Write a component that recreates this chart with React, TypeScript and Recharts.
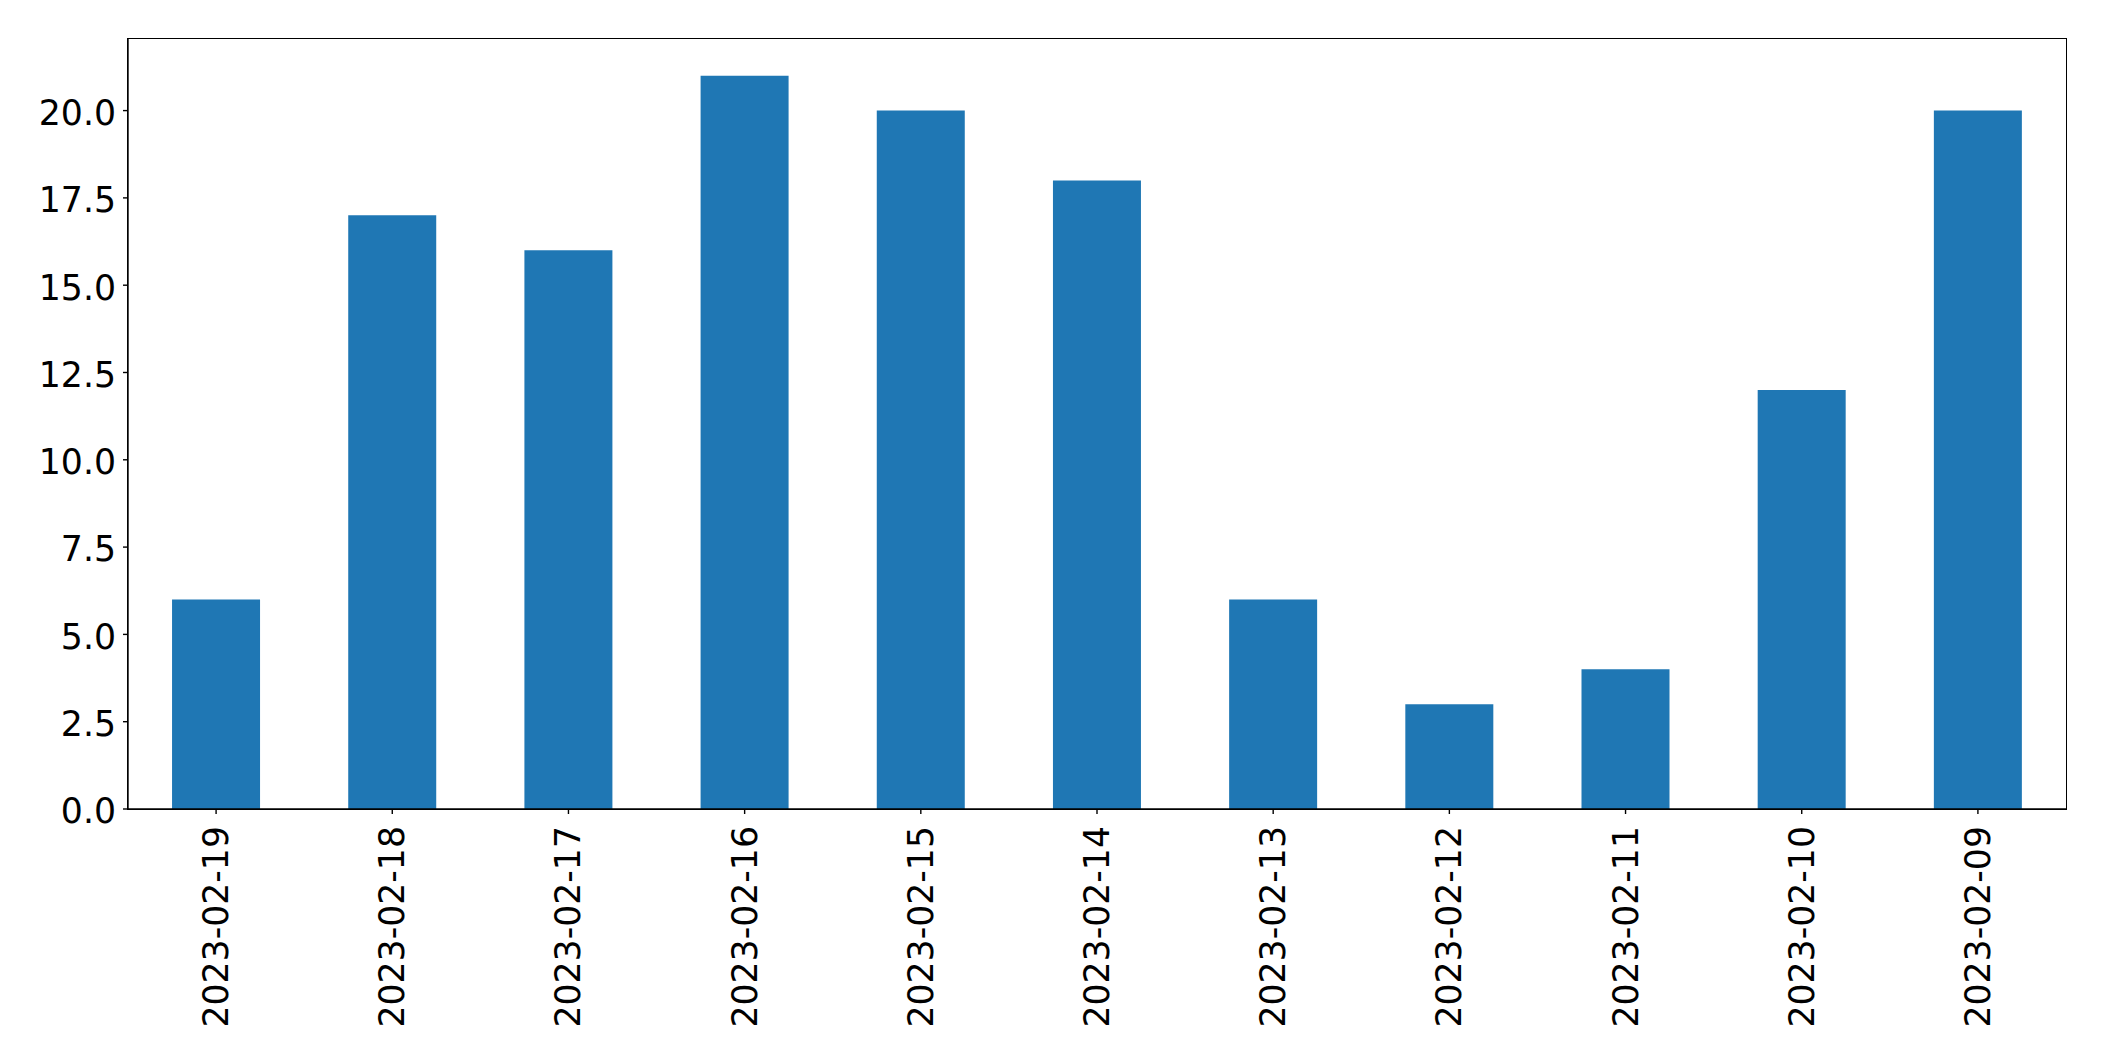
import React from "react";
import {
  BarChart,
  Bar,
  XAxis,
  YAxis,
} from "recharts";

const dates = [
  "2023-02-19",
  "2023-02-18",
  "2023-02-17",
  "2023-02-16",
  "2023-02-15",
  "2023-02-14",
  "2023-02-13",
  "2023-02-12",
  "2023-02-11",
  "2023-02-10",
  "2023-02-09",
];
const counts = [6, 17, 16, 21, 20, 18, 6, 3, 4, 12, 20];
const yTicks = [0, 2.5, 5, 7.5, 10, 12.5, 15, 17.5, 20];

const data = dates.map((d, i) => ({ date: d, count: counts[i] }));

const FONT = "'DejaVu Sans', sans-serif";
const FONT_SIZE = 34.7;

// plot area box (matches margins below)
const PLOT = { left: 128, top: 39, right: 38, bottom: 252 };

function DateTick(props: any) {
  const { x, y, payload } = props;
  return (
    <text
      transform={`translate(${x},${y + 10}) rotate(-90)`}
      textAnchor="end"
      dominantBaseline="central"
      fontFamily={FONT}
      fontSize={FONT_SIZE}
      fill="#000"
    >
      {payload.value}
    </text>
  );
}

export default function App() {
  return (
    <div
      style={{
        position: "absolute",
        left: 0,
        top: 0,
        width: 2104,
        height: 1061,
        background: "#fff",
      }}
    >
      <BarChart
        width={2104}
        height={1061}
        data={data}
        margin={{ top: PLOT.top, right: PLOT.right, left: 0, bottom: 12 }}
        barCategoryGap="25%"
      >
        <XAxis
          dataKey="date"
          height={240}
          interval={0}
          tick={<DateTick />}
          tickSize={5}
          axisLine={{ stroke: "#000", strokeWidth: 1.4 }}
          tickLine={{ stroke: "#000", strokeWidth: 1.4 }}
        />
        <YAxis
          width={PLOT.left}
          domain={[0, 22.05]}
          ticks={yTicks}
          interval={0}
          tickFormatter={(v: number) => v.toFixed(1)}
          tickSize={5}
          tickMargin={7}
          tick={{ fill: "#000", fontSize: FONT_SIZE, fontFamily: FONT, dy: 2 }}
          axisLine={{ stroke: "#000", strokeWidth: 1.4 }}
          tickLine={{ stroke: "#000", strokeWidth: 1.4 }}
        />
        <Bar dataKey="count" fill="#1f77b4" isAnimationActive={false} />
      </BarChart>
      <div
        style={{
          position: "absolute",
          left: PLOT.left - 0.7,
          top: PLOT.top - 0.7,
          width: 2104 - PLOT.left - PLOT.right + 1.4,
          height: 1061 - PLOT.top - PLOT.bottom + 1.4,
          border: "1.4px solid #000",
          boxSizing: "border-box",
          pointerEvents: "none",
        }}
      />
    </div>
  );
}
